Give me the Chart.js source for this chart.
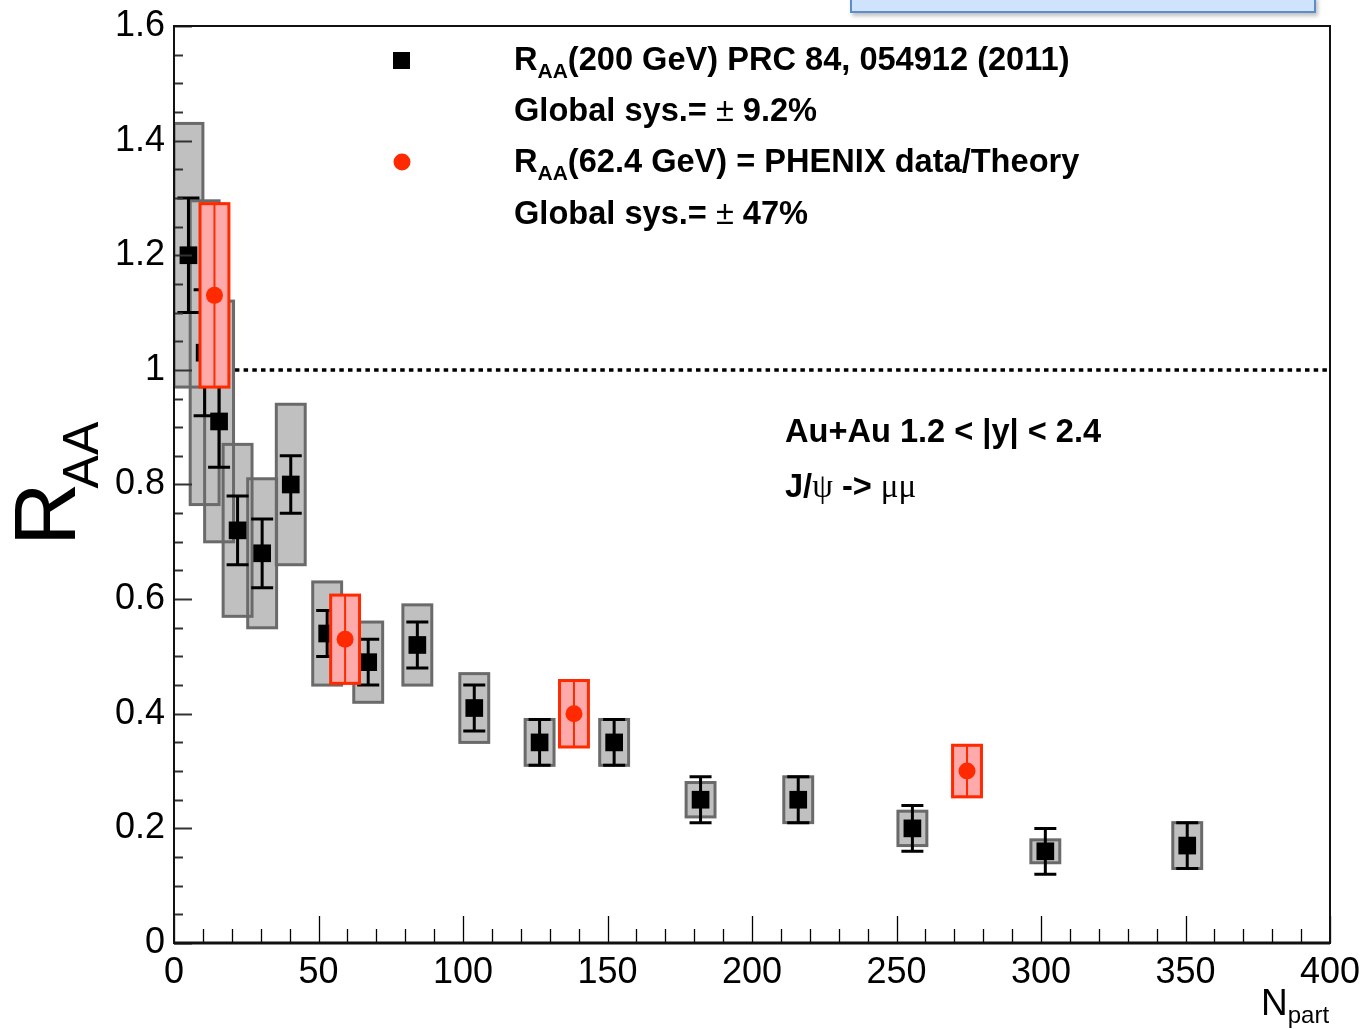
<!DOCTYPE html>
<html>
<head>
<meta charset="utf-8">
<title>J/psi RAA vs Npart</title>
<script src="https://cdn.jsdelivr.net/npm/chart.js@4.4.1/dist/chart.umd.min.js"></script>
<style>
  html, body { margin: 0; padding: 0; background: #fff; }
  #wrap { position: relative; width: 1364px; height: 1029px; overflow: hidden; }
  #note {
    position: absolute; left: 850px; top: -4px; width: 462px; height: 13px;
    background: #cfe3fc; border: 2px solid #5b8dcd;
    box-shadow: 2px 3px 4px rgba(0, 0, 0, 0.25);
  }
</style>
</head>
<body>
<div id="wrap">
  <canvas id="raa-chart"></canvas>
  <div id="note"></div>
</div>
<script>
// Au+Au 200 GeV, 1.2 < |y| < 2.4 (PRC 84, 054912)
const npart200 = [5.0, 10.6, 15.6, 22.0, 30.5, 40.4, 53.0, 67.2, 84.2, 103.9, 126.5, 152.3, 182.2, 216.0, 255.5, 301.5, 350.6];
const raa200   = [1.20, 1.03, 0.91, 0.72, 0.68, 0.80, 0.54, 0.49, 0.52, 0.41, 0.35, 0.35, 0.25, 0.25, 0.20, 0.16, 0.17];
const stat200  = [0.10, 0.11, 0.08, 0.06, 0.06, 0.05, 0.04, 0.04, 0.04, 0.04, 0.04, 0.04, 0.04, 0.04, 0.04, 0.04, 0.04];
const sys200   = [0.23, 0.265, 0.21, 0.15, 0.13, 0.14, 0.09, 0.07, 0.07, 0.06, 0.04, 0.04, 0.03, 0.04, 0.03, 0.02, 0.04];

// Au+Au 62.4 GeV, PHENIX data / theory
const npart62 = [14.0, 59.2, 138.4, 274.4];
const raa62   = [1.13, 0.53, 0.40, 0.30];
const err62   = [0.16, 0.077, 0.058, 0.045];

// axis ranges and tick steps
const xRange = [0, 400];
const yRange = [0, 1.6];
const xMajor = 50, xMinor = 10;
const yMajor = 0.2, yMinor = 0.05;

const BOX_HALF = 5;   // half width of the systematic boxes, in Npart
const FONT = '"Liberation Sans", Arial, Helvetica, sans-serif';
const RED = '#ff2a00';

function drawRuns(ctx, x, y, runs) {
  runs.forEach(r => {
    ctx.font = r.font;
    ctx.fillText(r.text, x, y + (r.dy || 0));
    x += ctx.measureText(r.text).width;
  });
}

function drawBar(ctx, px, yTop, yBot, cap) {
  ctx.beginPath();
  ctx.moveTo(px, yTop); ctx.lineTo(px, yBot);
  ctx.moveTo(px - cap, yTop); ctx.lineTo(px + cap, yTop);
  ctx.moveTo(px - cap, yBot); ctx.lineTo(px + cap, yBot);
  ctx.stroke();
}

// keep the frame where the layout padding puts it, labels may overhang
function noOverhang(s) {
  s.paddingTop = 0; s.paddingBottom = 0;
  s.paddingLeft = 0; s.paddingRight = 0;
}

const raaPlugin = {
  id: 'raaDecor',
  beforeDatasetsDraw(chart) {
    const { ctx, scales: { x, y } } = chart;
    // R_AA = 1 reference line
    ctx.save();
    ctx.strokeStyle = '#000';
    ctx.lineWidth = 3.5;
    ctx.setLineDash([4.5, 4.2]);
    ctx.beginPath();
    ctx.moveTo(x.getPixelForValue(xRange[0]), y.getPixelForValue(1));
    ctx.lineTo(x.getPixelForValue(xRange[1]), y.getPixelForValue(1));
    ctx.stroke();
    ctx.restore();
  },
  beforeDatasetDraw(chart, args) {
    const { ctx, chartArea: a, scales: { x, y } } = chart;
    ctx.save();
    ctx.beginPath();
    ctx.rect(a.left, a.top, a.right - a.left, a.bottom - a.top);
    ctx.clip();
    if (args.index === 0) {
      // grey systematic boxes, then statistical bars
      const boxes = npart200.map((n, i) => {
        const l = x.getPixelForValue(n - BOX_HALF), r = x.getPixelForValue(n + BOX_HALF);
        const t = y.getPixelForValue(raa200[i] + sys200[i]), b = y.getPixelForValue(raa200[i] - sys200[i]);
        return [l, t, r - l, b - t];
      });
      ctx.fillStyle = '#c0c0c0';
      boxes.forEach(bx => ctx.fillRect(...bx));
      ctx.strokeStyle = '#6a6a6a';
      ctx.lineWidth = 3;
      boxes.forEach(bx => ctx.strokeRect(...bx));
      ctx.strokeStyle = '#000';
      ctx.lineWidth = 3;
      npart200.forEach((n, i) => {
        drawBar(ctx, x.getPixelForValue(n),
          y.getPixelForValue(raa200[i] + stat200[i]),
          y.getPixelForValue(raa200[i] - stat200[i]), 11);
      });
    } else {
      npart62.forEach((n, i) => {
        const l = x.getPixelForValue(n - BOX_HALF), r = x.getPixelForValue(n + BOX_HALF);
        const t = y.getPixelForValue(raa62[i] + err62[i]), b = y.getPixelForValue(raa62[i] - err62[i]);
        ctx.fillStyle = '#ffaaaa';
        ctx.fillRect(l, t, r - l, b - t);
        ctx.strokeStyle = RED;
        ctx.lineWidth = 3;
        ctx.strokeRect(l, t, r - l, b - t);
        ctx.lineWidth = 2;
        drawBar(ctx, x.getPixelForValue(n), t, b, 11);
      });
    }
    ctx.restore();
  },
  afterDraw(chart) {
    const { ctx, chartArea: a, scales: { x, y } } = chart;
    ctx.save();

    // tick marks pointing into the frame
    ctx.strokeStyle = '#333';
    ctx.lineWidth = 2;
    for (let v = yRange[0]; v <= yRange[1] + 1e-9; v += yMinor) {
      const py = Math.round(y.getPixelForValue(v)) + 0.5;
      const major = Math.abs(v / yMajor - Math.round(v / yMajor)) < 1e-6;
      ctx.beginPath();
      ctx.moveTo(a.left, py);
      ctx.lineTo(a.left + (major ? 18 : 9), py);
      ctx.stroke();
    }
    ctx.strokeStyle = '#000';
    ctx.lineWidth = 1.3;
    for (let v = xRange[0]; v <= xRange[1]; v += xMinor) {
      const px = Math.round(x.getPixelForValue(v)) + 0.5;
      const major = v % xMajor === 0;
      ctx.beginPath();
      ctx.moveTo(px, a.bottom);
      ctx.lineTo(px, a.bottom - (major ? 27 : 14));
      ctx.stroke();
    }

    // frame
    ctx.strokeStyle = '#111';
    ctx.lineWidth = 2;
    ctx.strokeRect(a.left, a.top, a.right - a.left, a.bottom - a.top);
    ctx.lineWidth = 3;
    ctx.beginPath();
    ctx.moveTo(a.left, a.bottom); ctx.lineTo(a.right, a.bottom);
    ctx.stroke();

    ctx.fillStyle = '#000';
    ctx.textBaseline = 'alphabetic';
    ctx.textAlign = 'left';

    // axis titles
    ctx.save();
    ctx.translate(75, 546);
    ctx.rotate(-Math.PI / 2);
    ctx.font = '88px ' + FONT;
    ctx.fillText('R', 0, 0);
    const rw = ctx.measureText('R').width;
    ctx.font = '50px ' + FONT;
    ctx.fillText('AA', rw - 6, 23);
    ctx.restore();

    drawRuns(ctx, 1261, 1015, [
      { text: 'N', font: '37px ' + FONT },
      { text: 'part', font: '24px ' + FONT, dy: 8 }
    ]);

    // legend
    const B = 'bold 32.6px ' + FONT, Bs = 'bold 21px ' + FONT, P = '32.6px ' + FONT;
    ctx.fillStyle = '#000';
    ctx.fillRect(393, 52, 17, 17);
    drawRuns(ctx, 514, 70, [
      { text: 'R', font: B }, { text: 'AA', font: Bs, dy: 8 },
      { text: '(200 GeV) PRC 84, 054912 (2011)', font: B }
    ]);
    drawRuns(ctx, 514, 121, [
      { text: 'Global sys.= ', font: B }, { text: '±', font: P }, { text: ' 9.2%', font: B }
    ]);
    ctx.fillStyle = RED;
    ctx.beginPath();
    ctx.arc(402, 162, 8.5, 0, Math.PI * 2);
    ctx.fill();
    ctx.fillStyle = '#000';
    drawRuns(ctx, 514, 172, [
      { text: 'R', font: B }, { text: 'AA', font: Bs, dy: 8 },
      { text: '(62.4 GeV) = PHENIX data/Theory', font: B }
    ]);
    drawRuns(ctx, 514, 224, [
      { text: 'Global sys.= ', font: B }, { text: '±', font: P }, { text: ' 47%', font: B }
    ]);

    // system label
    drawRuns(ctx, 785, 442, [{ text: 'Au+Au 1.2 < |y| < 2.4', font: B }]);
    drawRuns(ctx, 785, 497, [
      { text: 'J/', font: B }, { text: 'ψ', font: '33px "Liberation Serif", serif' },
      { text: ' -> ', font: B }, { text: 'μμ', font: '33px "Liberation Serif", serif' }
    ]);

    ctx.restore();
  }
};

const ctx = document.getElementById('raa-chart').getContext('2d');
new Chart(ctx, {
  type: 'scatter',
  data: {
    datasets: [
      {
        label: 'RAA 200 GeV',
        data: npart200.map((n, i) => ({ x: n, y: raa200[i] })),
        pointStyle: 'rect',
        pointRadius: 12.5,
        pointBorderWidth: 0,
        backgroundColor: '#000',
        order: 2
      },
      {
        label: 'RAA 62.4 GeV',
        data: npart62.map((n, i) => ({ x: n, y: raa62[i] })),
        pointStyle: 'circle',
        pointRadius: 8.5,
        pointBorderWidth: 0,
        backgroundColor: RED,
        order: 1
      }
    ]
  },
  options: {
    responsive: true,
    maintainAspectRatio: false,
    animation: false,
    layout: { padding: { top: 26, right: 34, left: 0, bottom: 0 } },
    plugins: { legend: { display: false }, tooltip: { enabled: false } },
    scales: {
      x: {
        type: 'linear',
        min: xRange[0],
        max: xRange[1],
        grid: { display: false, drawTicks: false },
        border: { display: false },
        ticks: { stepSize: xMajor, padding: 8, color: '#000', font: { family: FONT, size: 36 } },
        afterFit: s => { noOverhang(s); s.height = 86; }
      },
      y: {
        type: 'linear',
        min: yRange[0],
        max: yRange[1],
        grid: { display: false, drawTicks: false },
        border: { display: false },
        ticks: {
          stepSize: yMajor, padding: 9, color: '#000', font: { family: FONT, size: 36 },
          callback: v => String(Number(v.toFixed(1)))
        },
        afterFit: s => { noOverhang(s); s.width = 174; }
      }
    }
  },
  plugins: [raaPlugin]
});
</script>
</body>
</html>
